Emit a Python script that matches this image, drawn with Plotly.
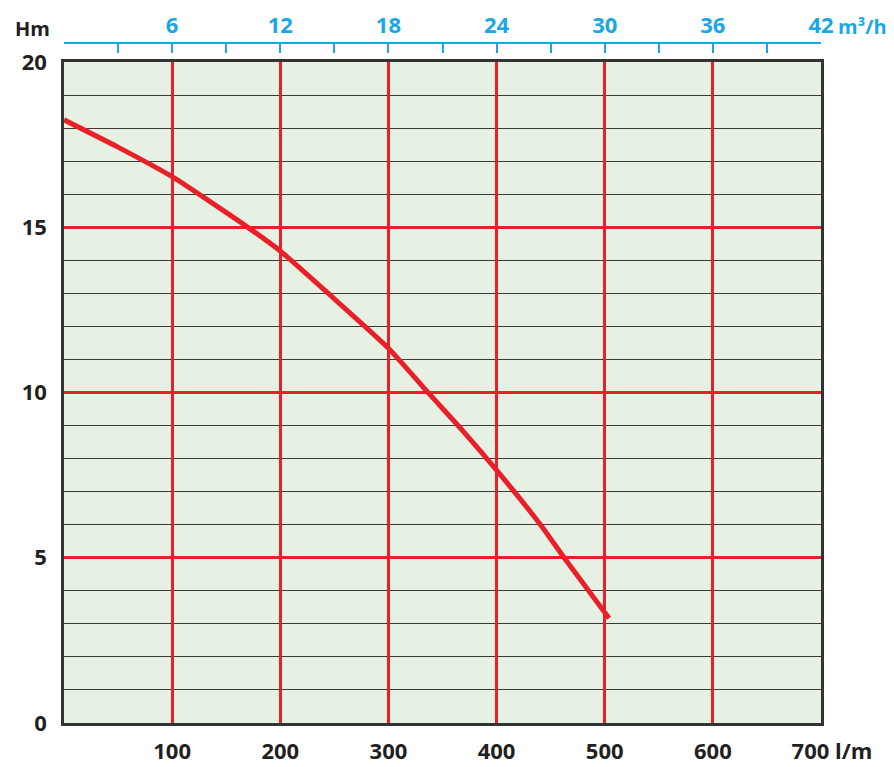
import plotly.graph_objects as go

# Data
flow_lpm = [0, 49, 100, 169, 200, 246, 300, 338, 368, 400, 442, 462, 504]
head_m = [18.25, 17.44, 16.53, 15.02, 14.28, 12.95, 11.34, 9.95, 8.87, 7.65, 5.94, 5.02, 3.17]

x_tickvals = [100, 200, 300, 400, 500, 600, 700]
x_ticktext = ["100", "200", "300", "400", "500", "600", "\u2003700 l/m"]
y_tickvals = [0, 5, 10, 15, 20]
y_ticktext = ["0", "5", "10", "15", "20"]
top_tickvals = [0, 3, 6, 9, 12, 15, 18, 21, 24, 27, 30, 33, 36, 39, 42]
top_ticktext = ["", "", "6", "", "12", "", "18", "", "24", "", "30", "", "36", "", "42"]

RED = "#e8202a"
BLUE = "#1aa7e6"
DARK = "#231f20"
FONT = "Open Sans"

# page body has an 8px margin; figure is sized/offset to compensate
OFF = 8
W, H = 894 - OFF, 767 - OFF
L, R, T, B = 64 - OFF, 821 - OFF, 62 - OFF, 723 - OFF   # plot box in figure px
mt = 12
ml, mr, mb = L, W - R, H - B
ph = H - mt - mb
pw = W - ml - mr
ytop = (B - T) / ph
top_pos = (B - (43 - OFF)) / ph


def px_x(v):
    return (v - OFF - ml) / pw


def px_y(v):
    return (B - (v - OFF)) / ph


fig = go.Figure()
fig.add_trace(go.Scatter(
    x=flow_lpm, y=head_m, mode="lines",
    line=dict(color=RED, width=5, shape="spline", smoothing=0.5),
    hoverinfo="skip", showlegend=False,
))
# invisible trace to activate top axis
fig.add_trace(go.Scatter(x=[0, 42], y=[0, 0], xaxis="x2", mode="lines",
                         line=dict(width=0), hoverinfo="skip", showlegend=False))

fig.update_layout(
    width=W, height=H,
    margin=dict(l=ml, r=mr, t=mt, b=mb, autoexpand=False),
    paper_bgcolor="white",
    plot_bgcolor="#e7f1e3",
    font=dict(family=FONT, color=DARK),
    xaxis=dict(
        range=[0, 700], domain=[0, 1], automargin=False,
        tickmode="array", tickvals=x_tickvals, ticktext=x_ticktext,
        tickfont=dict(family=FONT, size=22, color=DARK, weight="bold"),
        ticks="outside", ticklen=7, tickcolor="rgba(0,0,0,0)",
        showgrid=True, gridcolor=RED, gridwidth=2.5,
        showline=True, linecolor="#333333", linewidth=2.5, mirror=True,
        zeroline=False, fixedrange=True,
    ),
    yaxis=dict(
        range=[0, 20], domain=[0, ytop], automargin=False,
        tickmode="array", tickvals=y_tickvals, ticktext=y_ticktext,
        tickfont=dict(family=FONT, size=22, color=DARK, weight="bold"),
        ticks="outside", ticklen=10, tickcolor="rgba(0,0,0,0)",
        showgrid=True, gridcolor=RED, gridwidth=2.5,
        minor=dict(dtick=1, tick0=0, showgrid=True, gridcolor="#3a3a3a", gridwidth=1.2),
        showline=True, linecolor="#333333", linewidth=2.5, mirror=True,
        zeroline=False, fixedrange=True,
    ),
    xaxis2=dict(
        range=[0, 42], overlaying="x", side="top", anchor="free", position=top_pos,
        automargin=False,
        tickmode="array", tickvals=top_tickvals, ticktext=top_ticktext,
        tickfont=dict(family=FONT, size=22, color=BLUE, weight="bold"),
        ticks="inside", ticklen=9, tickwidth=1.5, tickcolor=BLUE,
        showline=True, linecolor=BLUE, linewidth=1.5,
        showgrid=False, zeroline=False, fixedrange=True,
    ),
    annotations=[
        dict(text="<b>Hm</b>", x=px_x(13), y=px_y(28), xref="paper", yref="paper",
             showarrow=False, font=dict(family=FONT, size=20, color=DARK),
             xanchor="left", yanchor="middle"),
        dict(text="<b>m³/h</b>", x=px_x(836), y=px_y(27), xref="paper", yref="paper",
             showarrow=False, font=dict(family=FONT, size=20, color=BLUE),
             xanchor="left", yanchor="middle"),
    ],
)

fig.write_html("out.html")
